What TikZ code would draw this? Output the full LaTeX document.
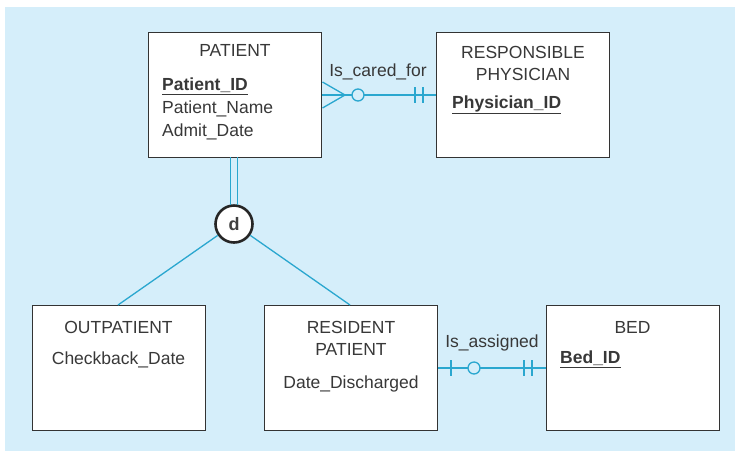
\documentclass[tikz,border=0pt]{standalone}
\usepackage{fontspec}
\setmainfont{Liberation Sans}
\begin{document}
\begin{tikzpicture}[x=1pt,y=-1pt,
  ent/.style={draw=black!80,fill=white,line width=0.9pt,minimum width=173pt,minimum height=125pt,inner sep=0pt},
  txt/.style={font=\fontsize{17.5}{19}\selectfont,text=black!78,inner sep=0pt},
  conn/.style={draw=lc,line width=1.3pt}]
\definecolor{bg}{HTML}{D5EEFA}
\definecolor{lc}{HTML}{2AA7CF}
\useasboundingbox (0,0) rectangle (735,451);
\fill[white] (0,0) rectangle (735,451);
\fill[bg] (5,7) rectangle (735,451);
% entities
\node[ent] (pat) at (235,94.5) {};
\node[ent] (phy) at (523,94.5) {};
\node[ent] (out) at (118.5,368) {};
\node[ent] (res) at (351,368) {};
\node[ent] (bed) at (632.5,368) {};
% texts
\node[txt] (patT) at (235,50) {PATIENT};
\node[txt,anchor=west] (patA) at (162,86) {\textbf{\underline{Patient\_ID}}};
\node[txt,anchor=west] (patB) at (162,109) {Patient\_Name};
\node[txt,anchor=west] (patC) at (162,132) {Admit\_Date};
\node[txt] (phyT1) at (523,52) {RESPONSIBLE};
\node[txt] (phyT2) at (523,74) {PHYSICIAN};
\node[txt,anchor=west] (phyA) at (452,105) {\textbf{\underline{Physician\_ID}}};
\node[txt] (outT) at (118.5,327) {OUTPATIENT};
\node[txt] (outA) at (118.5,360) {Checkback\_Date};
\node[txt] (resT1) at (351,327) {RESIDENT};
\node[txt] (resT2) at (351,349) {PATIENT};
\node[txt] (resA) at (351,384) {Date\_Discharged};
\node[txt] (bedT) at (632.5,327) {BED};
\node[txt,anchor=west] (bedA) at (560,359) {\textbf{\underline{Bed\_ID}}};
% relationship Is_cared_for
\node[txt] (lab1) at (378,72) {Is\_cared\_for};
\coordinate (c1a) at (pat.east |- 0,95);
\coordinate (c1b) at (phy.west |- 0,95);
\draw[conn] (c1a) -- (c1b);
\draw[conn] (322.5,82) -- (345,95) -- (322.5,108);
\node[conn,fill=bg,circle,minimum size=12pt,inner sep=0pt] (o1) at (358,95) {};
\draw[conn] (415,87) -- (415,103) (423,87) -- (423,103);
% relationship Is_assigned
\node[txt] (lab2) at (492,343) {Is\_assigned};
\coordinate (c2a) at (res.east |- 0,368);
\coordinate (c2b) at (bed.west |- 0,368);
\draw[conn] (c2a) -- (c2b);
\node[conn,fill=bg,circle,minimum size=12pt,inner sep=0pt] (o2) at (474,368) {};
\draw[conn] (451,360) -- (451,376) (524,360) -- (524,376) (532,360) -- (532,376);
% subtype circle
\node[draw=black!85,line width=2.6pt,fill=white,circle,minimum size=37pt,inner sep=0pt,font=\fontsize{18}{19}\selectfont\bfseries,text=black!75] (d) at (234,224) {d};
\draw[conn] (230.5,157) -- (230.5,205) (237.5,157) -- (237.5,205);
\draw[conn] (d) -- (118,305);
\draw[conn] (d) -- (350,305);
\end{tikzpicture}
\end{document}
